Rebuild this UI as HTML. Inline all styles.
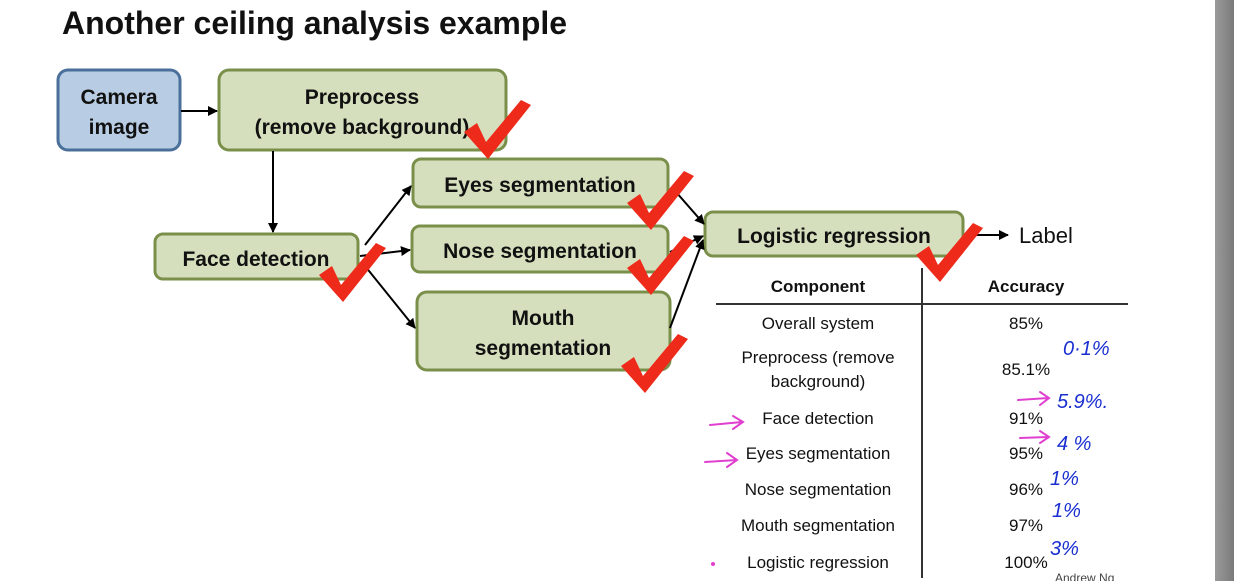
<!DOCTYPE html>
<html><head><meta charset="utf-8"><style>
html,body{margin:0;padding:0;background:#fff;}
svg{display:block;}
</style></head><body>
<svg width="1234" height="581" xmlns="http://www.w3.org/2000/svg" font-family="Liberation Sans, sans-serif">
<defs>
<marker id="ah" markerWidth="10" markerHeight="10" refX="9" refY="5" orient="auto" markerUnits="userSpaceOnUse">
<path d="M0,0 L10,5 L0,10 z" fill="#000"/></marker>
<linearGradient id="gb" x1="0" x2="1"><stop offset="0" stop-color="#9a9a9a"/><stop offset="1" stop-color="#7a7a7a"/></linearGradient>
<path id="ck" d="M0,0 L13,-9 L22,10 L57,-32 L67,-27 L24,27 Z"/>
</defs>
<rect x="1215" y="0" width="19" height="581" fill="url(#gb)"/>
<text x="62" y="34" font-size="32" font-weight="bold" fill="#111">Another ceiling analysis example</text>

<g stroke-width="3">
<rect x="58" y="70" width="122" height="80" rx="10" fill="#b8cde4" stroke="#4a6f9a"/>
<rect x="219" y="70" width="287" height="80" rx="10" fill="#d6dfbd" stroke="#7a8f4a"/>
<rect x="155" y="234" width="203" height="45" rx="8" fill="#d6dfbd" stroke="#7a8f4a"/>
<rect x="413" y="159" width="255" height="48" rx="8" fill="#d6dfbd" stroke="#7a8f4a"/>
<rect x="412" y="226" width="256" height="46" rx="8" fill="#d6dfbd" stroke="#7a8f4a"/>
<rect x="417" y="292" width="253" height="78" rx="10" fill="#d6dfbd" stroke="#7a8f4a"/>
<rect x="705" y="212" width="258" height="44" rx="8" fill="#d6dfbd" stroke="#7a8f4a"/>
</g>

<g font-weight="bold" font-size="21" fill="#111" text-anchor="middle">
<text x="119" y="104">Camera</text><text x="119" y="134">image</text>
<text x="362" y="104">Preprocess</text><text x="362" y="134">(remove background)</text>
<text x="256" y="266">Face detection</text>
<text x="540" y="192">Eyes segmentation</text>
<text x="540" y="258">Nose segmentation</text>
<text x="543" y="325">Mouth</text><text x="543" y="355">segmentation</text>
<text x="834" y="243">Logistic regression</text>
</g>
<text x="1019" y="243" font-size="22" fill="#111">Label</text>

<g stroke="#000" stroke-width="2" fill="none" marker-end="url(#ah)">
<line x1="181" y1="111" x2="217" y2="111"/>
<line x1="273" y1="151" x2="273" y2="232"/>
<line x1="365" y1="245" x2="411" y2="186"/>
<line x1="360" y1="256" x2="410" y2="250"/>
<line x1="365" y1="266" x2="415" y2="328"/>
<line x1="676" y1="192" x2="704" y2="224"/>
<line x1="670" y1="252" x2="703" y2="236"/>
<line x1="670" y1="328" x2="703" y2="240"/>
<line x1="968" y1="235" x2="1008" y2="235"/>
</g>

<g fill="#ee2a1a">
<use href="#ck" x="464" y="132"/>
<use href="#ck" x="627" y="203"/>
<use href="#ck" x="627" y="268"/>
<use href="#ck" x="319" y="275"/>
<use href="#ck" x="621" y="366"/>
<use href="#ck" x="916" y="255"/>
</g>

<g font-size="17" fill="#111" text-anchor="middle">
<text x="818" y="292" font-weight="bold">Component</text>
<text x="1026" y="292" font-weight="bold">Accuracy</text>
<text x="818" y="329">Overall system</text>
<text x="818" y="363">Preprocess (remove</text>
<text x="818" y="387">background)</text>
<text x="818" y="424">Face detection</text>
<text x="818" y="459">Eyes segmentation</text>
<text x="818" y="495">Nose segmentation</text>
<text x="818" y="531">Mouth segmentation</text>
<text x="818" y="568">Logistic regression</text>
<text x="1026" y="329">85%</text>
<text x="1026" y="375">85.1%</text>
<text x="1026" y="424">91%</text>
<text x="1026" y="459">95%</text>
<text x="1026" y="495">96%</text>
<text x="1026" y="531">97%</text>
<text x="1026" y="568">100%</text>
</g>
<line x1="716" y1="304" x2="1128" y2="304" stroke="#333" stroke-width="2"/>
<line x1="922" y1="268" x2="922" y2="578" stroke="#333" stroke-width="2"/>

<g font-size="20" fill="#1a2fd0" font-style="italic">
<text x="1063" y="355">0·1%</text>
<text x="1057" y="408">5.9%.</text>
<text x="1057" y="450">4 %</text>
<text x="1050" y="485">1%</text>
<text x="1052" y="517">1%</text>
<text x="1050" y="555">3%</text>
</g>
<g fill="none" stroke="#e040d0" stroke-width="2" stroke-linecap="round">
<path d="M1018,400 L1048,398 M1040,392 L1049,398 L1040,405"/>
<path d="M1020,438 L1048,437 M1040,431 L1049,437 L1040,443"/>
<path d="M710,425 L742,422 M733,416 L743,422 L733,429"/>
<path d="M705,462 L737,460 M727,453 L737,460 L727,467"/>
</g>
<circle cx="713" cy="564" r="2" fill="#e040d0"/>
<text x="1055" y="582" font-size="12" fill="#444">Andrew Ng</text>
</svg>
</body></html>
